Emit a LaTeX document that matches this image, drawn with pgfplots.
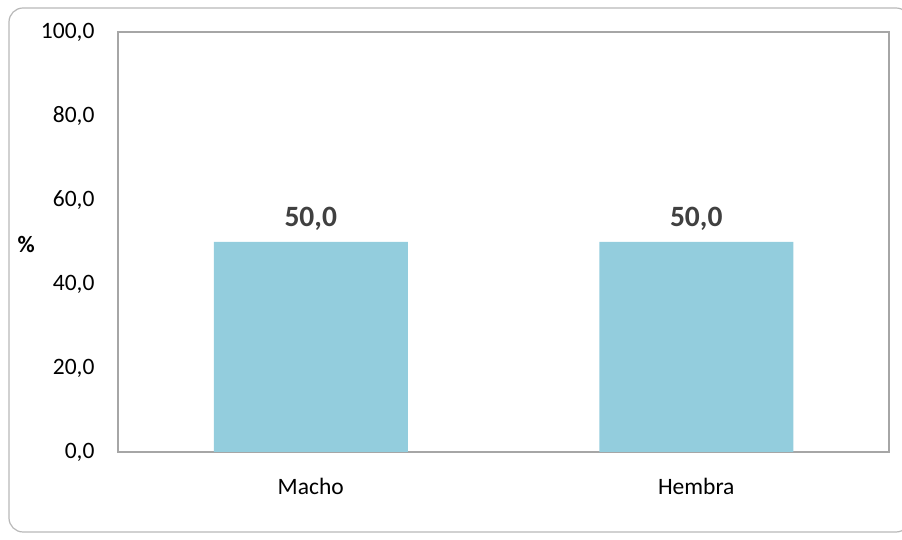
\documentclass[border=0pt]{standalone}
\usepackage{pgfplots}
\pgfplotsset{compat=1.18}
\usepackage{fontspec}
\setmainfont{Carlito}
\definecolor{barcol}{HTML}{93CDDD}
\definecolor{axcol}{HTML}{A6A6A6}
\definecolor{lblcol}{HTML}{404040}
\begin{document}
\begin{tikzpicture}[x=1pt,y=1pt]
\useasboundingbox (0,0) rectangle (902,540);
\draw[color=axcol!80, line width=1.2pt, rounded corners=14pt] (9,8) rectangle (910,532);
\begin{axis}[
  at={(118pt,88pt)}, anchor=south west,
  scale only axis, width=771pt, height=420pt,
  xmin=-0.5, xmax=1.5, ymin=0, ymax=100,
  xtick=data, xticklabels={Macho,Hembra},
  ytick={0,20,40,60,80,100},
  major tick length=0pt,
  axis line style={axcol, line width=1.2pt},
  /pgf/number format/.cd, fixed, fixed zerofill, precision=1, use comma, assume math mode=true,
  /pgfplots/.cd,
  tick label style={font=\fontsize{23.5}{28}\selectfont, black},
  yticklabel style={xshift=-20pt},
  xticklabel style={yshift=-23pt},
  ylabel={\textbf{\%}},
  ylabel style={at={(axis description cs:-0.119,0.493)}, rotate=-90, anchor=center, font=\fontsize{23.5}{28}\selectfont},
  nodes near coords,
  every node near coord/.append style={font=\fontsize{29.5}{34}\selectfont\bfseries, color=lblcol, yshift=8pt},
]
\addplot[ybar, bar width=194pt, fill=barcol, draw=none] coordinates {(0,50.0) (1,50.0)};
\end{axis}
\end{tikzpicture}
\end{document}
